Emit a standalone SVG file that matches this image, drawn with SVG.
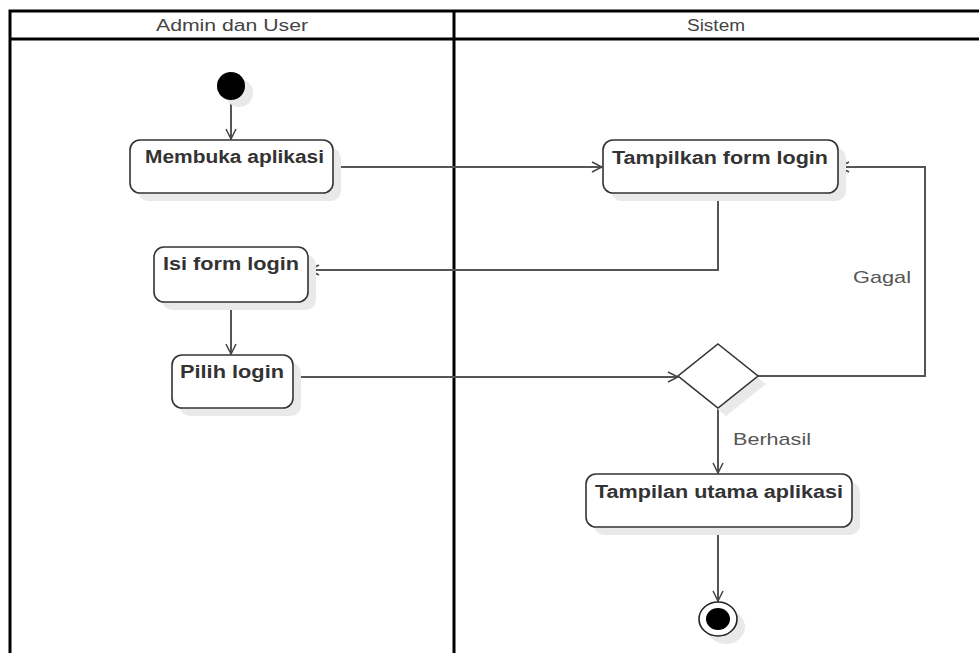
<svg xmlns="http://www.w3.org/2000/svg" width="979" height="653" viewBox="0 0 979 653">
  <defs>
    <marker id="arrow" viewBox="0 0 12 12" refX="11" refY="6" markerWidth="12" markerHeight="12" markerUnits="userSpaceOnUse" orient="auto">
      <path d="M1,1 L11,6 L1,11" fill="none" stroke="#444" stroke-width="1.5"/>
    </marker>
  </defs>
  <style>
    .lane { fill: none; stroke: #000; stroke-width: 3; }
    .lanetitle { font-family: "Liberation Sans", Arial, sans-serif; font-size: 16px; fill: #444; text-anchor: middle; }
    .shadow { fill: #e9e9e9; stroke: none; }
    .act { fill: #fff; stroke: #333; stroke-width: 1.6; }
    .label { font-family: "Liberation Sans", Arial, sans-serif; font-size: 18px; font-weight: bold; fill: #333; }
    .edge { fill: none; stroke: #555; stroke-width: 2; marker-end: url(#arrow); }
    .guard { font-family: "Liberation Sans", Arial, sans-serif; font-size: 17px; fill: #555; }
  </style>
  <rect width="979" height="653" fill="#fff"/>

  <!-- swimlanes -->
  <g id="lanes">
    <path class="lane" d="M985,11 H10 V660 M10,39 H985 M454,11 V660"/>
    <text class="lanetitle" x="232" y="31" textLength="152" lengthAdjust="spacingAndGlyphs">Admin dan User</text>
    <text class="lanetitle" x="716" y="31" textLength="58" lengthAdjust="spacingAndGlyphs">Sistem</text>
  </g>

  <!-- connectors -->
  <g id="connectors">
    <path class="edge" d="M231,100 V139"/>
    <path class="edge" d="M333,167 H602"/>
    <path class="edge" d="M718,193 V270 H309"/>
    <path class="edge" d="M231,302 V354"/>
    <path class="edge" d="M293,377 H678"/>
    <path class="edge" d="M758,376 H925 V167 H839"/>
    <path class="edge" d="M718,408 V473"/>
    <path class="edge" d="M718,527 V601"/>
    <text class="guard" x="853" y="283" textLength="58" lengthAdjust="spacingAndGlyphs">Gagal</text>
    <text class="guard" x="733" y="445" textLength="78" lengthAdjust="spacingAndGlyphs">Berhasil</text>
  </g>

  <g id="start">
    <circle class="shadow" cx="239" cy="93" r="14"/>
    <circle cx="231" cy="86" r="14" fill="#000"/>
  </g>

  <g id="membuka-aplikasi">
    <rect class="shadow" x="138" y="148" width="203" height="53" rx="10"/>
    <rect class="act" x="130" y="140" width="203" height="53" rx="10"/>
    <text class="label" x="145" y="163" textLength="179" lengthAdjust="spacingAndGlyphs">Membuka aplikasi</text>
  </g>

  <g id="tampilkan-form-login">
    <rect class="shadow" x="611" y="148" width="235" height="53" rx="10"/>
    <rect class="act" x="603" y="140" width="235" height="53" rx="10"/>
    <text class="label" x="612" y="164" textLength="216" lengthAdjust="spacingAndGlyphs">Tampilkan form login</text>
  </g>

  <g id="isi-form-login">
    <rect class="shadow" x="162" y="255" width="154" height="55" rx="10"/>
    <rect class="act" x="154" y="247" width="154" height="55" rx="10"/>
    <text class="label" x="163" y="270" textLength="136" lengthAdjust="spacingAndGlyphs">Isi form login</text>
  </g>

  <g id="pilih-login">
    <rect class="shadow" x="180" y="363" width="121" height="53" rx="10"/>
    <rect class="act" x="172" y="355" width="121" height="53" rx="10"/>
    <text class="label" x="180" y="378" textLength="104" lengthAdjust="spacingAndGlyphs">Pilih login</text>
  </g>

  <g id="keputusan">
    <polygon class="shadow" points="726,352 766,384 726,416 686,384"/>
    <polygon class="act" points="718,344 758,376 718,408 678,376"/>
  </g>

  <g id="tampilan-utama-aplikasi">
    <rect class="shadow" x="594" y="482" width="266" height="53" rx="10"/>
    <rect class="act" x="586" y="474" width="266" height="53" rx="10"/>
    <text class="label" x="595" y="498" textLength="248" lengthAdjust="spacingAndGlyphs">Tampilan utama aplikasi</text>
  </g>

  <g id="end">
    <ellipse class="shadow" cx="726" cy="627" rx="19" ry="17"/>
    <ellipse cx="718" cy="619" rx="19" ry="17" fill="#fff" stroke="#222" stroke-width="1.6"/>
    <ellipse cx="718" cy="619" rx="12" ry="11" fill="#000"/>
  </g>
</svg>
